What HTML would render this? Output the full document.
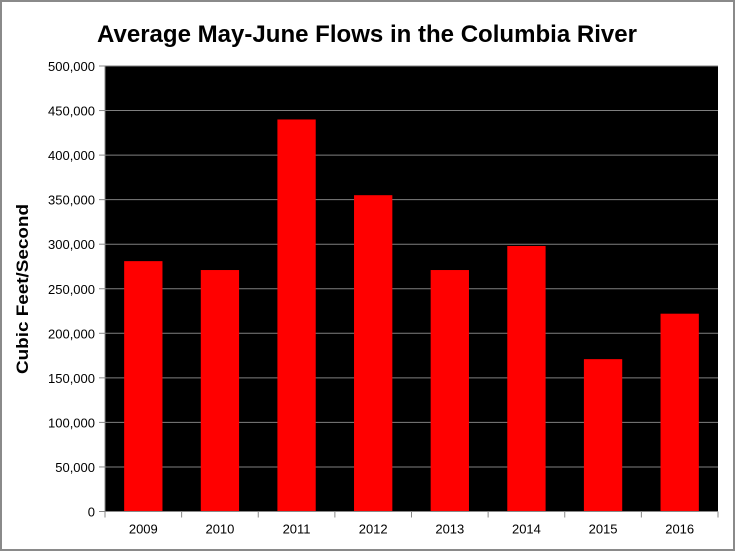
<!DOCTYPE html>
<html><head><meta charset="utf-8"><style>
html,body{margin:0;padding:0;background:#fff}
svg{display:block;font-family:"Liberation Sans",sans-serif}
</style></head><body>
<svg id="chart" width="736" height="552" viewBox="0 0 736 552" xmlns="http://www.w3.org/2000/svg">
<rect x="1" y="1" width="733" height="549" fill="#fff" stroke="#8a8a8a" stroke-width="2"/>
<text x="367" y="42" text-anchor="middle" font-size="24" font-weight="bold" textLength="540" lengthAdjust="spacingAndGlyphs">Average May-June Flows in the Columbia River</text>
<rect x="105" y="66" width="613" height="445.5" fill="#000"/>
<g id="grid"></g><g id="bars"></g><g id="axes"></g>
<text transform="translate(28,289) rotate(-90)" text-anchor="middle" font-size="17" font-weight="bold" textLength="170" lengthAdjust="spacingAndGlyphs">Cubic Feet/Second</text>
</svg>
<script>
const categories=["2009","2010","2011","2012","2013","2014","2015","2016"];
const flows=[281000,271000,440000,355000,271000,298000,171000,222000];
const yTicks=[0,50000,100000,150000,200000,250000,300000,350000,400000,450000,500000];
const yTickLabels=["0","50,000","100,000","150,000","200,000","250,000","300,000","350,000","400,000","450,000","500,000"];
const NS="http://www.w3.org/2000/svg";
const L=105,R=718,T=66,B=511.5,yMax=500000;
const y=v=>B-(v/yMax)*(B-T);
const cw=(R-L)/categories.length;
const x=i=>L+i*cw;
function mk(tag,attrs,parent,txt){const e=document.createElementNS(NS,tag);for(const k in attrs)e.setAttribute(k,attrs[k]);if(txt!==undefined)e.textContent=txt;parent.appendChild(e);return e;}
const grid=document.getElementById('grid'),bars=document.getElementById('bars'),axes=document.getElementById('axes');
yTicks.forEach((v,i)=>{
  if(v>0){const g=mk('line',{x1:L,x2:R,y1:y(v),y2:y(v),stroke:'#7f7f7f','stroke-width':1},grid);
  
  }
  const t=mk('line',{x1:L-6,x2:L,y1:y(v),y2:y(v),stroke:'#888'},axes);
  
  
  const lb=mk('text',{x:L-10,y:y(v)+5,'text-anchor':'end','font-size':13},axes,yTickLabels[i]);
  
  
});
flows.forEach((v,i)=>{
  const bw=cw*0.5;
  const b=mk('rect',{x:x(i)+(cw-bw)/2,y:y(v),width:bw,height:B-y(v),fill:'#ff0000'},bars);
  
  
  const lb=mk('text',{x:x(i)+cw/2,y:B+22,'text-anchor':'middle','font-size':13},axes,categories[i]);
  
  
});
for(let i=0;i<=categories.length;i++){
  const t=mk('line',{x1:x(i),x2:x(i),y1:B,y2:B+6,stroke:'#888'},axes);
  
  
}
const xa=mk('line',{x1:L,x2:R,y1:B,y2:B,stroke:'#888'},axes);


const ya=mk('line',{x1:L,x2:L,y1:T,y2:B,stroke:'#888'},axes);


</script>
</body></html>
